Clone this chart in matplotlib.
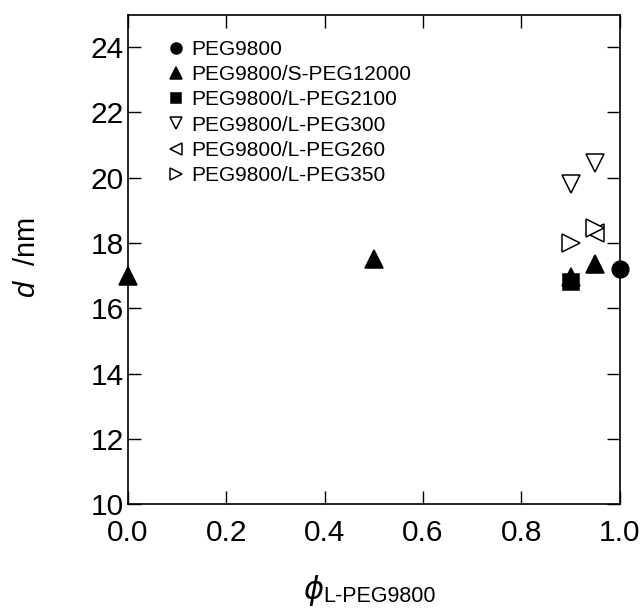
import matplotlib
matplotlib.use("Agg")
import matplotlib.pyplot as plt

plt.rcParams['font.family'] = ['Liberation Sans', 'DejaVu Sans']
plt.rcParams['mathtext.fontset'] = 'custom'
plt.rcParams['mathtext.rm'] = 'Liberation Sans'
plt.rcParams['mathtext.it'] = 'Liberation Sans:italic'

# data
peg9800_x = [1.0]
peg9800_y = [17.2]
speg12000_x = [0.0, 0.5, 0.9, 0.95]
speg12000_y = [17.0, 17.5, 16.95, 17.35]
lpeg2100_x = [0.9]
lpeg2100_y = [16.8]
lpeg300_x = [0.9, 0.95]
lpeg300_y = [19.8, 20.45]
lpeg260_x = [0.95]
lpeg260_y = [18.3]
lpeg350_x = [0.9, 0.95]
lpeg350_y = [18.0, 18.45]

labels = ['PEG9800', 'PEG9800/S-PEG12000', 'PEG9800/L-PEG2100',
          'PEG9800/L-PEG300', 'PEG9800/L-PEG260', 'PEG9800/L-PEG350']
xticks = [0.0, 0.2, 0.4, 0.6, 0.8, 1.0]
yticks = [10, 12, 14, 16, 18, 20, 22, 24]

fig = plt.figure(figsize=(6.43, 6.08), dpi=100)
ax = fig.add_axes([0.199, 0.171, 0.765, 0.805])

series = [
    (lpeg300_x, lpeg300_y, 'v', 'white', 13, labels[3]),
    (lpeg260_x, lpeg260_y, '<', 'white', 13, labels[4]),
    (lpeg350_x, lpeg350_y, '>', 'white', 13, labels[5]),
    (speg12000_x, speg12000_y, '^', 'black', 13, labels[1]),
    (lpeg2100_x, lpeg2100_y, 's', 'black', 11, labels[2]),
    (peg9800_x, peg9800_y, 'o', 'black', 12, labels[0]),
]
handles = {}
for x, y, m, fc, ms, lab in series:
    h, = ax.plot(x, y, linestyle='none', marker=m, markersize=ms,
                 markerfacecolor=fc, markeredgecolor='black', markeredgewidth=1.1,
                 clip_on=False, zorder=3, label=lab)
    handles[lab] = h

leg = ax.legend([handles[l] for l in labels], labels, loc='upper left',
                bbox_to_anchor=(0.068, 0.957), frameon=False, fontsize=15,
                markerscale=0.66, handletextpad=0.22, labelspacing=0.3,
                handlelength=1.0, borderpad=0.2, borderaxespad=0.0)

ax.set_xlim(0, 1.0)
ax.set_ylim(10, 25)
ax.set_xticks(xticks)
ax.set_yticks(yticks)
ax.set_xticklabels([f'{t:.1f}' for t in xticks])
ax.set_yticklabels([str(t) for t in yticks])
ax.tick_params(direction='in', length=9.5, width=1.0, top=True, right=True,
               labelsize=21.5, pad=3, color='black')
ax.tick_params(axis='x', pad=11)
for s in ax.spines.values():
    s.set_linewidth(1.2)

fig.text(0.042, 0.577, r'$d$  /nm', rotation=90, fontsize=21, ha='center', va='center')
fig.text(0.503, 1 - 599 / 608, '\u03d5', fontsize=22, style='italic', ha='right',
         va='baseline', family=['DejaVu Sans'])
fig.text(0.502, 1 - 602 / 608, 'L-PEG9800', fontsize=15.5, ha='left', va='baseline')

fig.savefig('out.png', dpi=100)
